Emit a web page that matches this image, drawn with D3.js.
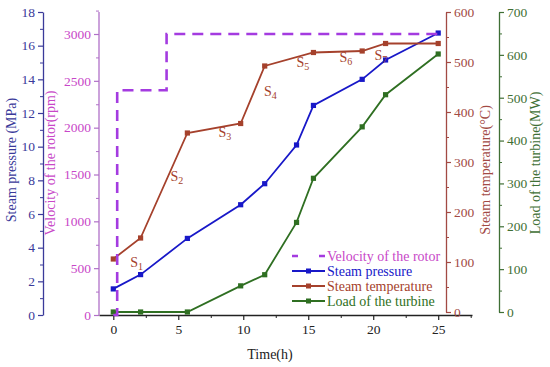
<!DOCTYPE html>
<html>
<head>
<meta charset="utf-8">
<script src="https://cdn.jsdelivr.net/npm/d3@7"></script>
<style>
  body { margin: 0; background: #fff; }
  svg text { font-family: "Liberation Serif", "Times New Roman", serif; }
</style>
</head>
<body>
<svg id="chart" width="550" height="367"></svg>
<script>
// data
const timeH = [0, 2.1, 5.7, 9.8, 11.65, 14.1, 15.4, 19.15, 20.95, 25];
const pressure = [1.55, 2.4, 4.55, 6.55, 7.8, 10.1, 12.45, 14.0, 15.15, 16.75];
const tempTime = [0, 2.1, 5.7, 9.8, 11.65, 15.4, 19.15, 20.95, 25];
const temperature = [106, 148, 358, 377, 492, 519, 522, 537, 537];
const loadTime = [0, 2.1, 5.7, 9.8, 11.65, 14.1, 15.4, 19.15, 20.95, 25];
const load = [0, 0, 0, 61, 87, 209, 312, 432, 507, 602];
const rotorTime = [0, 0.3, 0.3, 4.1, 4.1, 25];
const rotorSpeed = [0, 0, 2400, 2400, 3000, 3000];
const stageLabels = ["1", "2", "3", "4", "5", "6", "7"];
const stagePos = [[1.3, 90], [4.4, 262], [8.1, 350], [11.6, 432], [14.1, 490], [17.4, 500], [20.1, 505]];

const colors = {
  pressure: "#1818c8", pressureAxis: "#3a3a9a",
  rotor: "#a43be0", rotorText: "#c847c8", rotorAxis: "#b070c8",
  temp: "#a5412c", tempAxis: "#a24a44",
  load: "#2f6f22", loadAxis: "#3f6f35"
};
const serif = "Liberation Serif, Times New Roman, serif";

const svg = d3.select("#chart");

const x = d3.scaleLinear().domain([-1.1, 27.6]).range([99, 472]);
const yP = d3.scaleLinear().domain([0, 18]).range([315, 12]);
const yV = d3.scaleLinear().domain([0, 3000]).range([315, 34]);
const yT = d3.scaleLinear().domain([0, 600]).range([312, 12]);
const yL = d3.scaleLinear().domain([0, 700]).range([312, 12]);

const styleAxis = (g, color, fontSize) => {
  g.attr("font-family", serif);
  g.select(".domain").attr("stroke", color).attr("stroke-width", 1.3);
  g.selectAll(".tick line").attr("stroke", color).attr("stroke-width", 1.2);
  g.selectAll(".tick text").attr("fill", color).style("font-size", fontSize + "px");
};

// x axis
const gx = svg.append("g").attr("transform", "translate(0,315)");
gx.call(d3.axisBottom(x).tickValues([0, 5, 10, 15, 20, 25]).tickSize(5).tickSizeOuter(0).tickPadding(4));
styleAxis(gx, "#222", 13.5);
svg.append("g").attr("transform", "translate(0,315)")
  .call(d3.axisBottom(x).tickValues([2.5, 7.5, 12.5, 17.5, 22.5, 27.5]).tickSize(3).tickFormat(""))
  .call(g => { g.select(".domain").remove(); g.selectAll("line").attr("stroke", "#222"); });

// pressure axis (outer left)
const gp = svg.append("g").attr("transform", "translate(43,0)");
gp.call(d3.axisLeft(yP).tickValues(d3.range(0, 19, 2)).tickSize(5).tickSizeOuter(0));
styleAxis(gp, colors.pressureAxis, 13.5);
svg.append("g").attr("transform", "translate(43,0)")
  .call(d3.axisLeft(yP).tickValues(d3.range(1, 18, 2)).tickSize(3).tickFormat(""))
  .call(g => { g.select(".domain").remove(); g.selectAll("line").attr("stroke", colors.pressureAxis); });

// rotor speed axis
const gv = svg.append("g").attr("transform", "translate(99,0)");
gv.call(d3.axisLeft(yV).tickValues(d3.range(0, 3001, 500)).tickFormat(d3.format("d")).tickSize(5).tickSizeOuter(0));
gv.select(".domain").attr("d", "M0,12V315");
styleAxis(gv, colors.rotorAxis, 13.5);
gv.selectAll(".tick text").attr("fill", colors.rotorText);
svg.append("g").attr("transform", "translate(99,0)")
  .call(d3.axisLeft(yV).tickValues(d3.range(250, 3251, 500)).tickSize(3).tickFormat(""))
  .call(g => { g.select(".domain").remove(); g.selectAll("line").attr("stroke", colors.rotorAxis); });

// temperature axis
const gt = svg.append("g").attr("transform", "translate(446,0)");
gt.call(d3.axisRight(yT).tickValues(d3.range(0, 601, 100)).tickSize(5).tickSizeOuter(0));
styleAxis(gt, colors.tempAxis, 13.5);
svg.append("g").attr("transform", "translate(446,0)")
  .call(d3.axisRight(yT).tickValues(d3.range(50, 600, 100)).tickSize(3).tickFormat(""))
  .call(g => { g.select(".domain").remove(); g.selectAll("line").attr("stroke", colors.tempAxis); });

// load axis
const gl = svg.append("g").attr("transform", "translate(499,0)");
gl.call(d3.axisRight(yL).tickValues(d3.range(0, 701, 100)).tickSize(5).tickSizeOuter(0));
styleAxis(gl, colors.loadAxis, 13.5);
svg.append("g").attr("transform", "translate(499,0)")
  .call(d3.axisRight(yL).tickValues(d3.range(50, 700, 100)).tickSize(3).tickFormat(""))
  .call(g => { g.select(".domain").remove(); g.selectAll("line").attr("stroke", colors.loadAxis); });

// axis titles
const title = (txt, xPos, yPos, color, rot) => svg.append("text")
  .attr("transform", `translate(${xPos},${yPos}) rotate(${rot})`)
  .attr("text-anchor", "middle").attr("fill", color)
  .style("font-size", "14px").text(txt);
title("Steam pressure (MPa)", 16, 160, colors.pressureAxis, -90);
title("Velocity of the rotor(rpm)", 55, 163, colors.rotorText, -90);
title("Steam temperature(\u00b0C)", 490, 170, colors.tempAxis, -90);
title("Load of the turbine(MW)", 540, 163, colors.loadAxis, -90);
svg.append("text").attr("x", 270).attr("y", 359).attr("text-anchor", "middle")
  .attr("fill", "#222").style("font-size", "14px").text("Time(h)");

// series
const drawSeries = (xs, ys, yScale, color, markers, dash) => {
  const pts = xs.map((t, i) => [x(t), yScale(ys[i])]);
  svg.append("path").attr("d", d3.line()(pts))
    .attr("fill", "none").attr("stroke", color)
    .attr("stroke-width", dash ? 2.6 : 1.8)
    .attr("stroke-dasharray", dash || null);
  if (markers) {
    svg.append("g").selectAll("rect").data(pts).join("rect")
      .attr("x", d => d[0] - 2.6).attr("y", d => d[1] - 2.6)
      .attr("width", 5.2).attr("height", 5.2).attr("fill", color);
  }
};
drawSeries(loadTime, load, yL, colors.load, true);
drawSeries(timeH, pressure, yP, colors.pressure, true);
drawSeries(tempTime, temperature, yT, colors.temp, true);
drawSeries(rotorTime, rotorSpeed, yV, colors.rotor, false, "11,7");

// stage labels
stagePos.forEach((p, i) => {
  const t = svg.append("text").attr("x", x(p[0])).attr("y", yT(p[1]))
    .attr("fill", colors.temp).style("font-size", "14px");
  t.append("tspan").text("S");
  t.append("tspan").attr("dy", 3).style("font-size", "10px").text(stageLabels[i]);
});

// legend
const legendItems = [
  { label: "Velocity of the rotor", color: colors.rotor, text: colors.rotorText, dash: true },
  { label: "Steam pressure", color: colors.pressure, text: colors.pressure },
  { label: "Steam temperature", color: colors.temp, text: colors.temp },
  { label: "Load of the turbine", color: colors.load, text: colors.load }
];
const legend = svg.append("g").attr("transform", "translate(292,256)");
const li = legend.selectAll("g").data(legendItems).join("g")
  .attr("transform", (d, i) => `translate(0,${i * 15})`);
li.append("line").attr("x1", 0).attr("x2", 33).attr("y1", 0).attr("y2", 0)
  .attr("stroke", d => d.color)
  .attr("stroke-width", d => d.dash ? 2.6 : 1.8)
  .attr("stroke-dasharray", d => d.dash ? "6,21" : null);
li.filter(d => !d.dash).append("rect").attr("x", 14).attr("y", -2.5)
  .attr("width", 5).attr("height", 5).attr("fill", d => d.color);
li.append("text").attr("x", 35).attr("y", 5).attr("fill", d => d.text)
  .style("font-size", "14px").text(d => d.label);
</script>
</body>
</html>
